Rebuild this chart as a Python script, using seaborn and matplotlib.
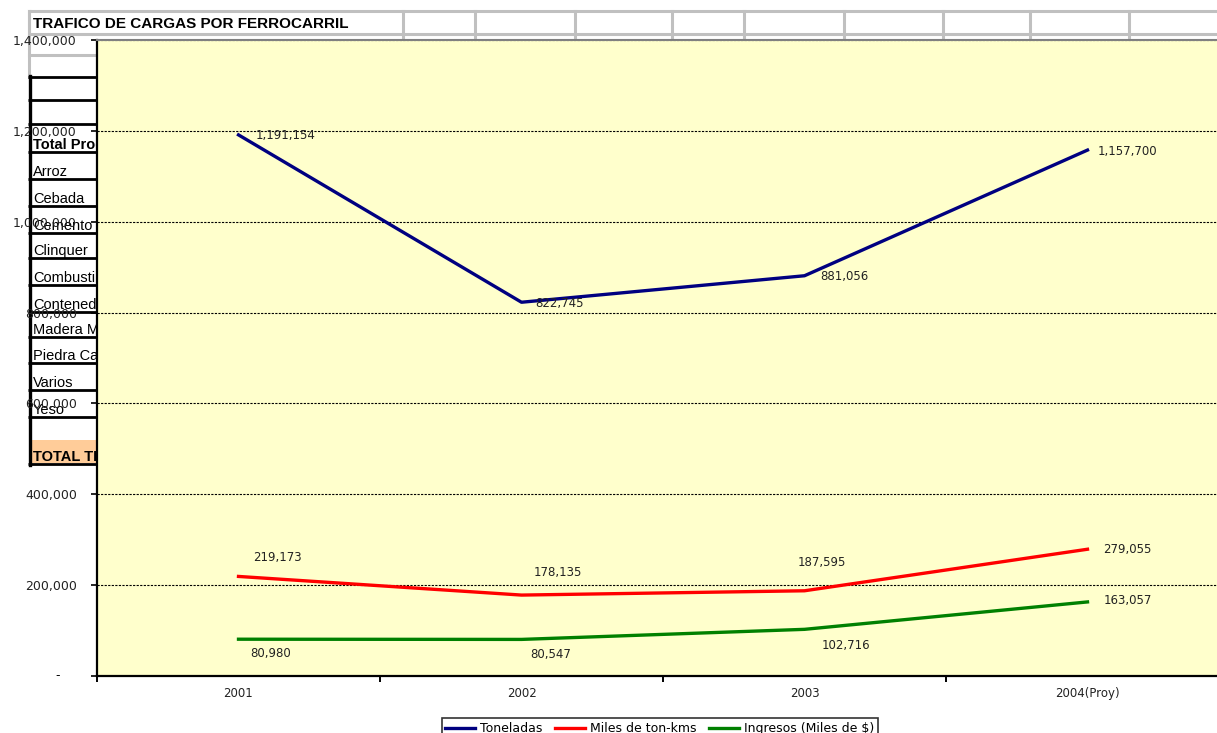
import numpy as np
import pandas as pd
import matplotlib
matplotlib.use("Agg")
import matplotlib.pyplot as plt
import seaborn as sns

# --- data ---
years = ["2001", "2002", "2003", "2004(Proy)"]
toneladas = [1191154, 822745, 881056, 1157700]
ton_kms = [219173, 178135, 187595, 279055]
ingresos = [80980, 80547, 102716, 163057]
series_names = ["Toneladas", "Miles de ton-kms", "Ingresos (Miles de $)"]
series_colors = ["#000080", "#FF0000", "#008000"]
y_ticks = [0, 200000, 400000, 600000, 800000, 1000000, 1200000, 1400000]

# spreadsheet rows that show behind the chart
table_rows = ["Total Productos", "Arroz", "Cebada", "Cemento", "Clinquer",
              "Combustibles", "Contenedores", "Madera Mineral", "Piedra Caliza",
              "Varios", "Yeso"]
title = "TRAFICO DE CARGAS POR FERROCARRIL"

# label offsets (pixels) so the value labels sit as in the original
label_offsets = [
    [(17, -1), (14, -1), (16, -1), (10, -1)],
    [(15, 19), (12, 23), (-7, 28), (16, 0)],
    [(12, -14), (9, -15), (17, -16), (16, 1)],
]

W, H = 1217, 733
fig = plt.figure(figsize=(W / 100, H / 100), dpi=100)

# -----------------------------
# background: the worksheet
# -----------------------------
bg = fig.add_axes([0, 0, 1, 1], zorder=0)
bg.set_xlim(0, W)
bg.set_ylim(H, 0)
bg.axis("off")

gray = "#C0C0C0"
for yy in [11, 34]:
    bg.plot([29, W], [yy, yy], color=gray, lw=2.2, solid_capstyle="butt")
bg.plot([29, 97], [55, 55], color=gray, lw=2.2)
for xx in [29, 403, 475, 575, 672, 744, 844, 943, 1030, 1129]:
    bg.plot([xx, xx], [11, 40], color=gray, lw=2.2)
bg.plot([29, 29], [11, 77], color=gray, lw=2.2)

bg.add_patch(plt.Rectangle((30, 440), 80, 23, color="#FFCC99", lw=0))
row_lines = [77, 100, 124, 152, 179, 206, 233, 258, 285, 312, 337, 363, 390, 417, 464]
for yy in row_lines:
    bg.plot([28, 110], [yy, yy], color="black", lw=2.0, solid_capstyle="butt")
bg.plot([29.5, 29.5], [76, 465], color="black", lw=2.4)

for i, name in enumerate(table_rows):
    bottom = row_lines[i + 3]
    bg.text(33, bottom - 3, name, fontsize=10.5, family="Liberation Sans",
            fontweight="bold" if i == 0 else "normal", va="baseline", ha="left")
bg.text(33, 461, "TOTAL TRAFICO", fontsize=10.5, family="Liberation Sans",
        fontweight="bold", va="baseline", ha="left")
bg.text(33, 24, title, fontsize=11, family="Liberation Sans",
        fontweight="bold", va="center", ha="left")

# -----------------------------
# the chart
# -----------------------------
ax = fig.add_axes([97 / W, 57 / H, 1132 / W, 636 / H], zorder=2)
ax.set_facecolor("#FFFFCC")

df = pd.DataFrame({
    "pos": list(range(len(years))) * 3,
    "valor": toneladas + ton_kms + ingresos,
    "serie": np.repeat(series_names, len(years)),
})
palette = dict(zip(series_names, series_colors))
sns.lineplot(data=df, x="pos", y="valor", hue="serie", palette=palette,
             linewidth=2.4, errorbar=None, ax=ax)
handles, labels = ax.get_legend_handles_labels()
ax.get_legend().remove()

for s, vals in enumerate([toneladas, ton_kms, ingresos]):
    for i, v in enumerate(vals):
        ax.annotate(f"{v:,}", xy=(i, v), xytext=label_offsets[s][i],
                    textcoords="offset pixels", ha="left", va="center",
                    fontsize=8.5, color="#222222")

ax.set_xlim(-0.5, 3.5)
ax.set_ylim(0, 1400000)
ax.set_xlabel("")
ax.set_ylabel("")

ax.set_xticks(range(len(years)))
ax.set_xticklabels(years, fontsize=8.5, color="#222222")
ax.set_xticks([-0.5, 0.5, 1.5, 2.5, 3.5], minor=True)
ax.tick_params(axis="x", which="major", length=0, pad=8)
ax.tick_params(axis="x", which="minor", length=4.5, width=1.4, direction="out")

ax.set_yticks(y_ticks)
ax.set_yticklabels([""] + [f"{t:,}" for t in y_ticks[1:]], fontsize=9, color="#222222")
ax.tick_params(axis="y", length=4.5, width=1.2, direction="out", pad=10)
ax.annotate("-", xy=(0, 0), xycoords=("axes fraction", "data"), xytext=(-39, 0),
            textcoords="offset pixels", ha="center", va="center", fontsize=9)

ax.yaxis.grid(True, color="black", linestyle=(0, (2, 1.2)), linewidth=0.8)
ax.set_axisbelow(True)

for side in ["left", "bottom"]:
    ax.spines[side].set_color("black")
    ax.spines[side].set_linewidth(1.6)
ax.spines["top"].set_color("#808080")
ax.spines["top"].set_linestyle((0, (1, 1)))
ax.spines["top"].set_linewidth(1.5)
ax.spines["right"].set_visible(False)

leg = fig.legend(handles, labels, loc="upper center", ncol=3,
                 bbox_to_anchor=(660 / W, 21 / H), fontsize=9,
                 frameon=True, fancybox=False, edgecolor="black",
                 handlelength=2.4, columnspacing=1.0, handletextpad=0.4,
                 borderpad=0.3)
leg.get_frame().set_linewidth(1.2)

fig.savefig("out.png", dpi=100)
